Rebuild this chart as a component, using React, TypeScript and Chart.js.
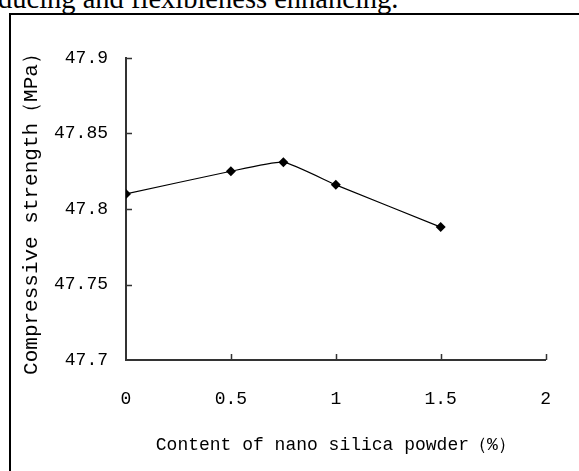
import React, { useEffect, useRef } from "react";
import { Chart, registerables } from "chart.js";

Chart.register(...registerables);

const contentPct = [0, 0.5, 0.75, 1, 1.5];
const strengthMPa = [47.81, 47.825, 47.831, 47.816, 47.788];
const xTicks = [0, 0.5, 1, 1.5, 2];
const yTicks = [47.7, 47.75, 47.8, 47.85, 47.9];
const xTitle = "Content of nano silica powder\uFF08%\uFF09";
const yTitle = "Compressive strength\uFF08MPa\uFF09";
const topText = "ducing and flexibleness enhancing.";

const FONT = "'Liberation Mono', 'DejaVu Sans Mono', monospace";

const innerTicks = {
  id: "innerTicks",
  afterDraw(chart: any) {
    const { ctx } = chart;
    const xs = chart.scales.x;
    const ys = chart.scales.y;
    const area = chart.chartArea;
    ctx.save();
    ctx.strokeStyle = "#333";
    ctx.lineWidth = 1.5;
    ctx.beginPath();
    xTicks.forEach((v) => {
      if (v === 0) return;
      const px = Math.round(xs.getPixelForValue(v)) + 0.5;
      ctx.moveTo(px, area.bottom);
      ctx.lineTo(px, area.bottom - 6);
    });
    yTicks.forEach((v) => {
      if (v === 47.7) return;
      const py = Math.round(ys.getPixelForValue(v)) + 0.5;
      ctx.moveTo(area.left, py);
      ctx.lineTo(area.left + 6, py);
    });
    ctx.stroke();
    ctx.restore();
  },
};

export default function App() {
  const ref = useRef<HTMLCanvasElement | null>(null);
  useEffect(() => {
    if (!ref.current) return;
    const chart = new Chart(ref.current, {
      type: "scatter",
      data: {
        datasets: [
          {
            data: contentPct.map((x, i) => ({ x, y: strengthMPa[i] })),
            showLine: true,
            borderColor: "#000",
            borderWidth: 1.2,
            backgroundColor: "#000",
            pointStyle: "rectRot",
            pointRadius: 5,
            pointBorderWidth: 0,
            tension: 0.15,
          },
        ],
      },
      options: {
        animation: false,
        responsive: false,
        maintainAspectRatio: false,
        layout: { padding: { left: 0, right: 27, top: 58, bottom: 0 } },
        plugins: { legend: { display: false }, tooltip: { enabled: false } },
        scales: {
          x: {
            type: "linear",
            min: 0,
            max: 2,
            afterBuildTicks: (s: any) => {
              s.ticks = xTicks.map((v) => ({ value: v }));
            },
            afterFit: (s: any) => {
              s.height = 111;
            },
            grid: { display: false, drawTicks: false },
            border: { display: true, color: "#333", width: 2 },
            ticks: {
              padding: 28,
              color: "#000",
              font: { family: FONT, size: 18 },
              maxRotation: 0,
              callback: (v: any) => String(Number(Number(v).toFixed(2))),
            },
            title: {
              display: true,
              text: xTitle,
              color: "#000",
              font: { family: FONT, size: 18 },
              padding: { top: 0, bottom: 15 },
            },
          },
          y: {
            type: "linear",
            min: 47.7,
            max: 47.9,
            afterBuildTicks: (s: any) => {
              s.ticks = yTicks.map((v) => ({ value: v }));
            },
            afterFit: (s: any) => {
              s.width = 126;
            },
            grid: { display: false, drawTicks: false },
            border: { display: true, color: "#333", width: 2 },
            ticks: {
              padding: 18,
              color: "#000",
              font: { family: FONT, size: 18 },
              callback: (v: any) => String(Number(Number(v).toFixed(2))),
            },
            title: {
              display: true,
              text: yTitle,
              color: "#000",
              font: { family: FONT, size: 21 },
              padding: { top: 19, bottom: 0 },
            },
          },
        },
      },
      plugins: [innerTicks],
    });
    return () => chart.destroy();
  }, []);

  return (
    <div
      style={{
        position: "fixed",
        left: 0,
        top: 0,
        width: 579,
        height: 471,
        overflow: "hidden",
        background: "#fff",
      }}
    >
      <div
        style={{
          position: "absolute",
          left: -2,
          top: -16,
          fontFamily: "'Liberation Serif', 'Times New Roman', serif",
          fontSize: 28.5,
          lineHeight: "30px",
          color: "#000",
          whiteSpace: "nowrap",
        }}
      >
        {topText}
      </div>
      <div
        style={{
          position: "absolute",
          left: 9,
          top: 13,
          width: 620,
          height: 520,
          border: "2px solid #000",
          boxSizing: "border-box",
        }}
      />
      <canvas
        ref={ref}
        width={579}
        height={471}
        style={{ position: "absolute", left: 0, top: 0, width: 579, height: 471 }}
      />
    </div>
  );
}
